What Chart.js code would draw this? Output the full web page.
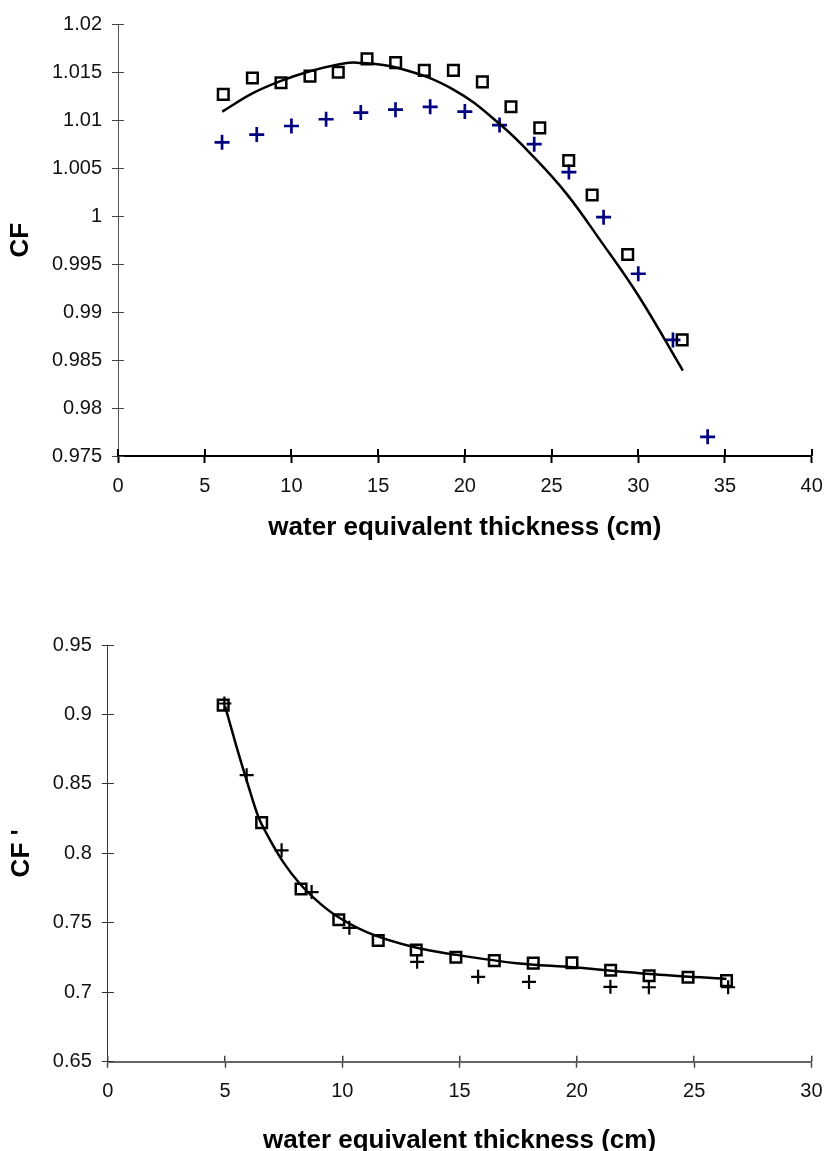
<!DOCTYPE html>
<html>
<head>
<meta charset="utf-8">
<script src="https://cdn.jsdelivr.net/npm/chart.js@4.4.1/dist/chart.umd.min.js"></script>
<style>
  html, body { margin: 0; padding: 0; background: #fff; overflow: hidden; }
  canvas { position: absolute; left: 0; display: block; }
  #cfChart { top: 0; }
  #cfPrimeChart { top: 575px; }
</style>
</head>
<body>
<canvas id="cfChart" width="824" height="575"></canvas>
<canvas id="cfPrimeChart" width="824" height="576"></canvas>
<script>
// ---- top panel: CF ----
const sqX = [6.07, 7.75, 9.40, 11.07, 12.70, 14.36, 16.01, 17.66, 19.34, 21.01, 22.66, 24.32, 25.99, 27.34, 29.39, 32.53];
const sqCF = [1.0127, 1.0144, 1.0139, 1.0146, 1.0150, 1.0164, 1.0160, 1.0152, 1.0152, 1.0140, 1.0114, 1.0092, 1.0058, 1.0022, 0.9960, 0.9871];
const crX = [6, 8, 10, 12, 14, 16, 18, 20, 22, 24, 26, 28, 30, 32, 34];
const crCF = [1.0077, 1.0085, 1.0094, 1.0101, 1.0108, 1.0111, 1.0114, 1.0109, 1.0095, 1.0075, 1.0046, 0.9999, 0.9940, 0.9871, 0.9770];
const fitX = [6.01, 7.75, 9.40, 11.07, 12.70, 13.78, 16.26, 19.34, 22.01, 24.01, 25.88, 27.80, 30.01, 32.57];
const fitCF = [1.0109, 1.0128, 1.0141, 1.0151, 1.0158, 1.0160, 1.0154, 1.0132, 1.0096, 1.0061, 1.0023, 0.9975, 0.9917, 0.9839];

// ---- bottom panel: CF' ----
const sqX2 = [4.92, 6.56, 8.24, 9.85, 11.53, 13.15, 14.84, 16.48, 18.14, 19.79, 21.44, 23.08, 24.74, 26.38];
const sqCF2 = [0.9067, 0.8221, 0.7743, 0.7522, 0.7373, 0.7304, 0.7252, 0.7228, 0.7210, 0.7212, 0.7158, 0.7119, 0.7108, 0.7084];
const crX2 = [4.97, 5.92, 7.41, 8.69, 10.30, 13.19, 15.79, 17.96, 21.43, 23.07, 26.45];
const crCF2 = [0.9079, 0.8563, 0.8022, 0.7721, 0.7464, 0.7219, 0.7111, 0.7074, 0.7039, 0.7036, 0.7036];
const fitX2 = [5.0, 5.49, 5.92, 6.42, 6.77, 7.48, 8.19, 8.9, 9.61, 11.04, 13.17, 14.87, 17.43, 19.84, 23.11, 26.38];
const fitCF2 = [0.906, 0.8767, 0.8526, 0.8262, 0.8142, 0.7937, 0.7781, 0.7661, 0.7565, 0.7433, 0.732, 0.7269, 0.7209, 0.718, 0.7132, 0.7096];

const xTitle = 'water equivalent thickness (cm)';

Chart.defaults.font.family = '"Liberation Sans", Arial, Helvetica, sans-serif';
Chart.defaults.color = '#000';

function toPoints(xs, ys) {
  return xs.map((x, i) => ({ x: x, y: ys[i] }));
}

function align(px, w) {
  return Math.round(px - w / 2) + w / 2;
}

// tick marks that cross the axis: Chart.js draws the outer half, this draws the inner half
const crossTicks = {
  id: 'crossTicks',
  beforeDatasetsDraw(chart, args, opts) {
    const { ctx, chartArea, scales } = chart;
    ctx.save();
    ctx.strokeStyle = opts.xColor;
    ctx.lineWidth = opts.xWidth;
    scales.x.ticks.forEach((t, i) => {
      const px = align(scales.x.getPixelForTick(i), opts.xWidth);
      ctx.beginPath();
      ctx.moveTo(px, chartArea.bottom);
      ctx.lineTo(px, chartArea.bottom - opts.xLen);
      ctx.stroke();
    });
    ctx.strokeStyle = opts.yColor;
    ctx.lineWidth = opts.yWidth;
    scales.y.ticks.forEach((t, i) => {
      const py = align(scales.y.getPixelForTick(i), opts.yWidth);
      ctx.beginPath();
      ctx.moveTo(chartArea.left, py);
      ctx.lineTo(chartArea.left + opts.yLen, py);
      ctx.stroke();
    });
    ctx.restore();
  }
};

// fixed axis boxes so the plot area lands where the reference has it
function fixX(h) {
  return s => { s.height = h; s.paddingLeft = 0; s.paddingRight = 0; };
}
function fixY(w) {
  return s => { s.width = w; s.paddingTop = 0; s.paddingBottom = 0; };
}

// top chart
new Chart(document.getElementById('cfChart'), {
  type: 'scatter',
  data: {
    datasets: [
      {
        label: 'fit',
        data: toPoints(fitX, fitCF),
        showLine: true,
        borderColor: '#000',
        borderWidth: 2.5,
        tension: 0.4,
        pointRadius: 0
      },
      {
        label: 'squares',
        data: toPoints(sqX, sqCF),
        pointStyle: 'rect',
        pointRadius: 7.5,
        pointBorderWidth: 2.5,
        pointBorderColor: '#000',
        pointBackgroundColor: 'rgba(0,0,0,0)'
      },
      {
        label: 'crosses',
        data: toPoints(crX, crCF),
        pointStyle: 'cross',
        pointRadius: 7.5,
        pointBorderWidth: 2.7,
        pointBorderColor: '#000080'
      }
    ]
  },
  options: {
    responsive: false,
    animation: false,
    events: [],
    layout: { padding: { top: 24.3, right: 12.3, left: 0, bottom: 0 } },
    plugins: {
      legend: { display: false },
      tooltip: { enabled: false },
      crossTicks: { xLen: 7, xColor: '#000', xWidth: 2, yLen: 6, yColor: '#444', yWidth: 1 }
    },
    scales: {
      x: {
        type: 'linear',
        min: 0,
        max: 40,
        ticks: { stepSize: 5, padding: 11, font: { size: 20 }, color: '#111' },
        grid: { drawOnChartArea: false, tickLength: 7, tickColor: '#000', tickWidth: 2 },
        border: { color: '#000', width: 2 },
        title: { display: true, text: xTitle, font: { size: 26, weight: 'bold' }, padding: { top: 0, bottom: 32 } },
        afterFit: fixX(119)
      },
      y: {
        min: 0.975,
        max: 1.02,
        ticks: { stepSize: 0.005, padding: 10, font: { size: 20 }, color: '#111',
          callback: v => String(+v.toFixed(3)) },
        grid: { drawOnChartArea: false, tickLength: 6, tickColor: '#444', tickWidth: 1 },
        border: { color: '#555', width: 1 },
        title: { display: true, text: 'CF', font: { size: 26, weight: 'bold' }, padding: { top: 5, bottom: 0 } },
        afterFit: fixY(118)
      }
    }
  },
  plugins: [crossTicks]
});

// bottom chart
new Chart(document.getElementById('cfPrimeChart'), {
  type: 'scatter',
  data: {
    datasets: [
      {
        label: 'fit',
        data: toPoints(fitX2, fitCF2),
        showLine: true,
        borderColor: '#000',
        borderWidth: 2.5,
        cubicInterpolationMode: 'monotone',
        pointRadius: 0
      },
      {
        label: 'squares',
        data: toPoints(sqX2, sqCF2),
        pointStyle: 'rect',
        pointRadius: 7.5,
        pointBorderWidth: 2.5,
        pointBorderColor: '#000',
        pointBackgroundColor: 'rgba(0,0,0,0)'
      },
      {
        label: 'crosses',
        data: toPoints(crX2, crCF2),
        pointStyle: 'cross',
        pointRadius: 7,
        pointBorderWidth: 2.2,
        pointBorderColor: '#000'
      }
    ]
  },
  options: {
    responsive: false,
    animation: false,
    events: [],
    layout: { padding: { top: 70, right: 12.6, left: 0, bottom: 0 } },
    plugins: {
      legend: { display: false },
      tooltip: { enabled: false },
      crossTicks: { xLen: 6, xColor: '#444', xWidth: 1.5, yLen: 6, yColor: '#333', yWidth: 1 }
    },
    scales: {
      x: {
        type: 'linear',
        min: 0,
        max: 30,
        ticks: { stepSize: 5, padding: 12, font: { size: 20 }, color: '#111' },
        grid: { drawOnChartArea: false, tickLength: 6, tickColor: '#444', tickWidth: 1.5 },
        border: { color: '#666', width: 2 },
        title: { display: true, text: xTitle, font: { size: 26, weight: 'bold', lineHeight: 0.8 }, padding: { top: 0, bottom: 0 } },
        afterFit: fixX(89.3)
      },
      y: {
        min: 0.65,
        max: 0.95,
        ticks: { stepSize: 0.05, padding: 10, font: { size: 20 }, color: '#111',
          callback: v => String(+v.toFixed(2)) },
        grid: { drawOnChartArea: false, tickLength: 6, tickColor: '#333', tickWidth: 1 },
        border: { color: '#333', width: 1 },
        title: { display: true, text: "CF '", font: { size: 26, weight: 'bold' }, padding: { top: 6, bottom: 0 } },
        afterFit: fixY(107.8)
      }
    }
  },
  plugins: [crossTicks]
});
</script>
</body>
</html>
